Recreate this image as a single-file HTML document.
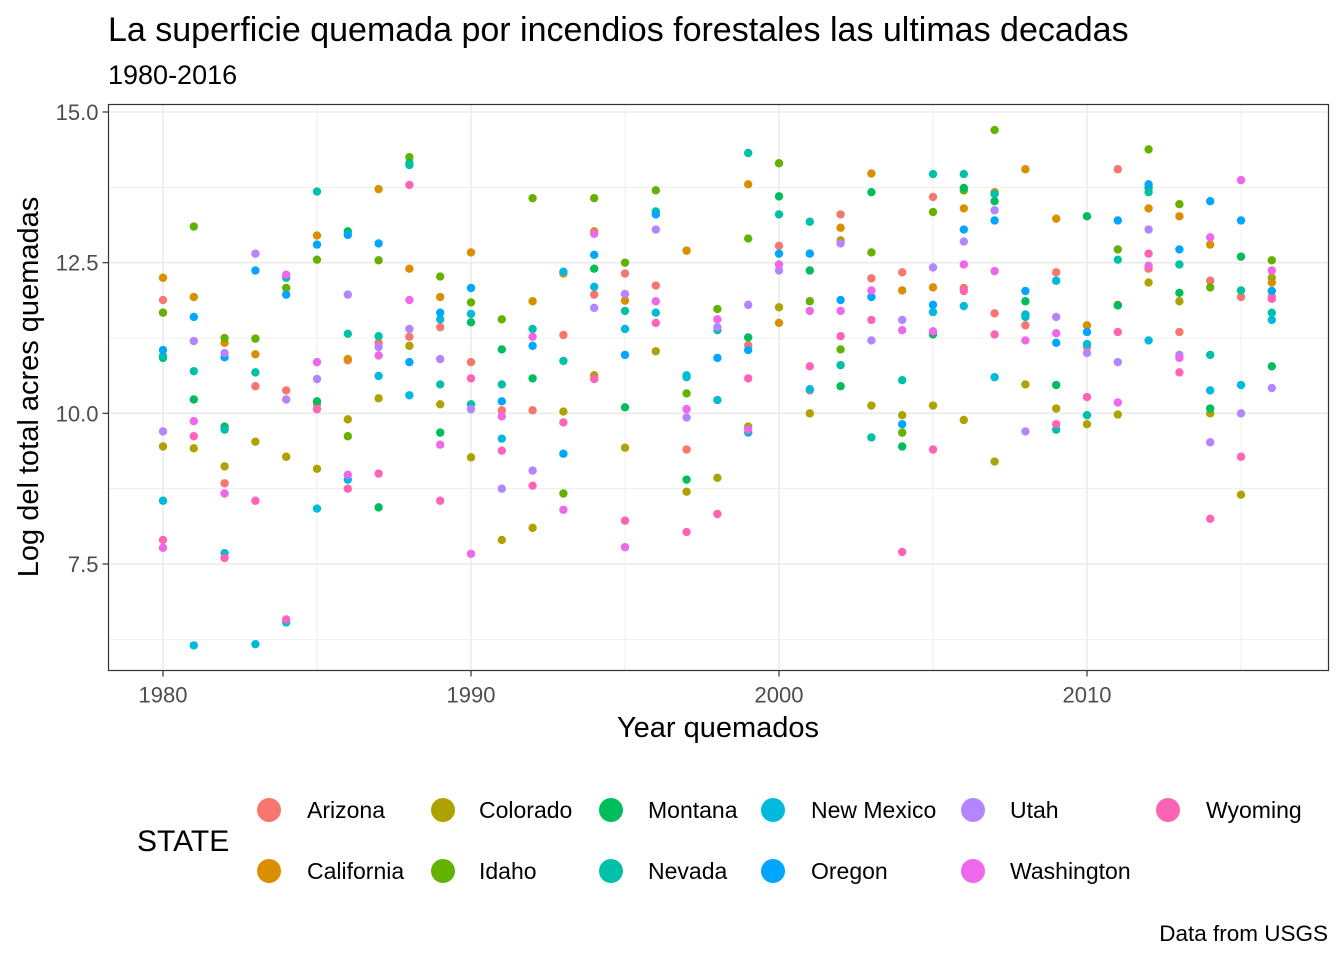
<!DOCTYPE html>
<html><head><meta charset="utf-8">
<style>
body{margin:0;background:#fff;width:1344px;height:960px;overflow:hidden;font-family:"Liberation Sans",Arial,sans-serif;}
svg text{font-family:"Liberation Sans",Arial,sans-serif;}
</style></head>
<body>
<svg id="chart" width="1344" height="960" xmlns="http://www.w3.org/2000/svg">
<text x="108" y="41" font-size="34" fill="#000">La superficie quemada por incendios forestales las ultimas decadas</text>
<text x="108" y="84" font-size="27" fill="#000">1980-2016</text>
<g id="grid"></g>
<g id="points"></g>
<rect x="108.5" y="104.5" width="1220" height="566" fill="none" stroke="#333" stroke-width="1.2"/>
<g id="axes"></g>
<text x="718" y="737" font-size="29" text-anchor="middle" fill="#000">Year quemados</text>
<text transform="translate(38,387) rotate(-90)" font-size="29" text-anchor="middle" fill="#000">Log del total acres quemadas</text>
<text x="137" y="851" font-size="30" fill="#000">STATE</text>
<g id="legend"></g>
<text x="1328" y="941" font-size="22.5" text-anchor="end" fill="#000">Data from USGS</text>
</svg>
<script>
const years = Array.from({length:37},(_, i)=>1980+i);
const stateNames = ["Arizona","California","Colorado","Idaho","Montana","Nevada","New Mexico","Oregon","Utah","Washington","Wyoming"];
const stateColors = ["#F8766D","#DB8E00","#AEA200","#64B200","#00BD5C","#00C1A7","#00BADE","#00A6FF","#B385FF","#EF67EB","#FF63B6"];
const arizona = [11.88,null,8.84,10.45,10.38,10.15,10.88,11.17,11.27,11.43,10.85,10.05,10.05,11.3,11.97,12.32,12.12,9.4,null,11.13,12.78,10.38,13.3,12.24,12.34,13.59,12.08,11.66,11.46,12.34,11.1,14.05,12.4,11.35,12.2,11.93,11.93];
const california = [12.25,11.93,11.17,10.98,null,12.95,10.9,13.72,12.4,11.93,12.67,null,11.86,12.32,13.02,11.87,null,12.7,null,13.8,11.5,null,13.08,13.98,12.04,12.09,13.4,13.67,14.05,13.23,11.46,11.8,13.4,13.27,12.8,null,12.17];
const colorado = [9.45,9.42,9.12,9.53,9.28,9.08,9.9,10.25,11.12,10.15,9.27,7.9,8.1,10.03,10.63,9.43,11.03,8.7,8.93,9.78,11.76,10.0,12.87,10.13,9.97,10.13,9.89,9.2,10.48,10.08,9.82,9.98,12.17,11.86,10.0,8.65,12.25];
const idaho = [11.67,13.1,11.25,11.24,12.08,12.55,9.62,12.54,14.25,12.27,11.84,11.56,13.57,8.67,13.57,12.5,13.7,10.33,11.73,12.9,14.15,11.86,11.06,12.67,9.68,13.34,13.7,14.7,null,null,null,12.72,14.38,13.47,12.09,null,12.54];
const montana = [10.92,10.23,9.78,null,null,10.2,13.02,8.44,14.15,9.68,11.51,11.06,10.58,null,12.4,10.1,null,8.9,null,11.26,13.6,12.37,10.45,13.67,9.45,11.31,13.74,13.52,11.86,10.47,13.27,11.79,13.74,12.0,10.08,12.6,10.78];
const nevada = [10.95,10.7,9.73,10.68,12.25,13.68,11.32,11.28,14.12,10.48,10.15,10.48,11.4,10.87,null,11.7,13.35,10.6,11.38,14.32,13.3,13.18,10.8,9.6,10.55,13.97,13.97,13.64,11.6,9.73,9.97,12.55,13.67,12.47,10.97,12.04,11.67];
const newMexico = [8.55,6.15,7.68,6.17,6.53,8.42,8.9,10.62,10.3,11.56,11.65,9.58,null,12.35,12.1,11.4,11.67,10.63,10.22,9.68,null,10.4,null,null,null,11.68,11.78,10.6,11.64,12.2,11.15,null,11.21,null,10.38,10.47,11.55];
const oregon = [11.05,11.6,10.93,12.37,11.97,12.8,12.96,12.82,10.85,11.67,12.08,10.2,11.12,9.33,12.63,10.97,13.3,null,10.92,11.05,12.65,12.65,11.88,11.93,9.82,11.8,13.05,13.2,12.03,11.17,11.35,13.2,13.8,12.72,13.52,13.2,12.03];
const utah = [9.7,11.2,11.0,12.65,10.23,10.57,11.97,11.1,11.4,10.9,10.07,8.75,9.05,null,11.75,11.98,13.05,9.93,11.43,11.8,12.37,null,12.82,11.21,11.55,12.42,12.85,13.37,9.7,11.6,11.0,10.85,13.05,10.97,9.52,10.0,10.42];
const washington = [7.77,9.87,8.67,null,12.3,10.85,8.98,10.96,11.88,9.48,7.67,9.95,11.27,8.4,12.98,7.78,11.86,10.07,11.56,9.73,12.47,11.7,11.7,12.04,11.38,11.36,12.47,12.36,11.21,11.33,null,10.18,12.45,10.92,12.92,13.87,12.37];
const wyoming = [7.9,9.62,7.6,8.55,6.58,10.07,8.75,9.0,13.79,8.55,10.58,9.38,8.8,9.85,10.57,8.22,11.5,8.03,8.33,10.58,null,10.78,11.28,11.55,7.7,9.4,12.03,11.31,null,9.82,10.27,11.35,12.65,10.68,8.25,9.28,11.9];
const seriesValues = [arizona,california,colorado,idaho,montana,nevada,newMexico,oregon,utah,washington,wyoming];
const yTicks = [7.5,10.0,12.5,15.0];
const yTickLabels = ["7.5","10.0","12.5","15.0"];
const yMinor = [6.25,8.75,11.25,13.75];
const xTicks = [1980,1990,2000,2010];
const xMinor = [1985,1995,2005,2015];

const NS="http://www.w3.org/2000/svg";
const xScale = v => 163 + (v-1980)*30.8;
const yScale = v => 112 + (15-v)*60.27;
const PL=108.5, PR=1328.5, PT=104.5, PB=670.5;
function mk(tag, attrs, parent){const e=document.createElementNS(NS,tag);for(const k in attrs)e.setAttribute(k,attrs[k]);parent.appendChild(e);return e;}
const grid=document.getElementById('grid'), axes=document.getElementById('axes'), pts=document.getElementById('points'), leg=document.getElementById('legend');
yMinor.forEach(v=>{const l=mk('line',{x1:PL,x2:PR,y1:yScale(v),y2:yScale(v),stroke:'#ebebeb','stroke-width':0.8},grid);

});
xMinor.forEach(v=>{const l=mk('line',{x1:xScale(v),x2:xScale(v),y1:PT,y2:PB,stroke:'#ebebeb','stroke-width':0.8},grid);

});
yTicks.forEach((v,i)=>{const y=yScale(v);
const l=mk('line',{x1:PL,x2:PR,y1:y,y2:y,stroke:'#ebebeb','stroke-width':1.6},grid);


const t=mk('line',{x1:PL-6,x2:PL,y1:y,y2:y,stroke:'#333','stroke-width':1.2},axes);


const tx=mk('text',{x:PL-10,y:y+8,'font-size':22,'text-anchor':'end',fill:'#4d4d4d'},axes);tx.textContent=yTickLabels[i];

});
xTicks.forEach(v=>{const x=xScale(v);
const l=mk('line',{x1:x,x2:x,y1:PT,y2:PB,stroke:'#ebebeb','stroke-width':1.6},grid);


const t=mk('line',{x1:x,x2:x,y1:PB,y2:PB+6,stroke:'#333','stroke-width':1.2},axes);


const tx=mk('text',{x:x,y:PB+32,'font-size':22,'text-anchor':'middle',fill:'#4d4d4d'},axes);tx.textContent=String(v);

});
seriesValues.forEach((arr,s)=>{arr.forEach((v,i)=>{if(v===null)return;
const c=mk('circle',{cx:xScale(years[i]),cy:yScale(v),r:4.2,fill:stateColors[s]},pts);

});});
const legX=[269,443,611,773,973,1168], legLX=[307,479,648,811,1010,1206];
stateNames.forEach((n,i)=>{const col=Math.floor(i/2), row=i%2; const y=row?871:810;
const g=mk('g',{},leg);


mk('circle',{cx:legX[col],cy:y,r:12,fill:stateColors[i]},g);
const t=mk('text',{x:legLX[col],y:y+8,'font-size':23,fill:'#000'},g);t.textContent=n;});
</script>
</body></html>
